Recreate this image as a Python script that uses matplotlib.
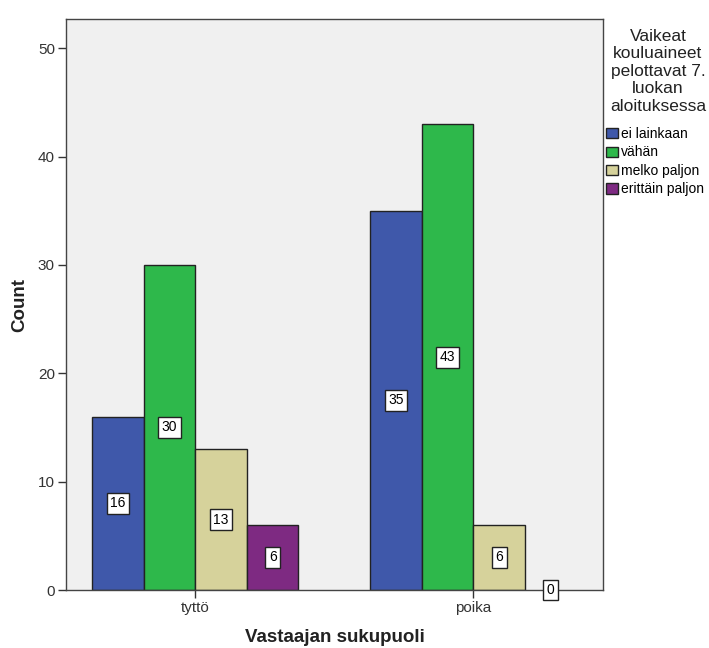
import numpy as np
import matplotlib.pyplot as plt

plt.rcParams['font.family'] = ['Liberation Sans', 'DejaVu Sans']

groups = ['tyttö', 'poika']
answers = ['ei lainkaan', 'vähän', 'melko paljon', 'erittäin paljon']
counts = {
    'ei lainkaan': [16, 35],
    'vähän': [30, 43],
    'melko paljon': [13, 6],
    'erittäin paljon': [6, 0],
}
colors = ['#3f58aa', '#2eb84b', '#d6d29b', '#7e2a82']
legend_title = 'Vaikeat\nkouluaineet\npelottavat 7.\nluokan\naloituksessa'

fig = plt.figure(figsize=(7.09, 6.48), dpi=100)
ax = fig.add_axes([66 / 709, 1 - 590 / 648, (603 - 66) / 709, (590 - 19) / 648])
ax.set_facecolor('#f0f0f0')

x = np.arange(len(groups))
w = 0.1855
handles = []
for i, (name, col) in enumerate(zip(answers, colors)):
    vals = counts[name]
    pos = x + (i - 1.5) * w
    # empty bars get no outline
    lws = [1.0 if v > 0 else 0 for v in vals]
    bars = ax.bar(pos, vals, width=w, color=col, edgecolor='#222222', linewidth=lws, zorder=2)
    handles.append(bars)
    for px, v in zip(pos, vals):
        ax.text(px, v / 2, str(v), ha='center', va='center', fontsize=10, zorder=4,
                bbox=dict(boxstyle='square,pad=0.25', fc='white', ec='#222222', lw=1.0))

ax.set_xlim(-0.465, 1.466)
ax.set_ylim(0, 52.7)
ax.set_yticks([0, 10, 20, 30, 40, 50])
ax.set_xticks(x)
ax.set_xticklabels(groups)
ax.tick_params(axis='both', labelsize=11, length=6, width=1.0, color='#333333',
               labelcolor='#333333', pad=2)
for s in ax.spines.values():
    s.set_color('#444444')
    s.set_linewidth(1.0)

ax.set_ylabel('Count', fontsize=13.5, fontweight='bold', color='#222222', labelpad=7)
ax.set_xlabel('Vastaajan sukupuoli', fontsize=13.5, fontweight='bold', color='#222222', labelpad=10)

fig.text(658 / 709, 1 - 29 / 648, legend_title, ha='center', va='top', fontsize=12.5,
         linespacing=1.2, color='#222222')
fig.legend(handles, answers, loc='upper left', bbox_to_anchor=(606 / 709, 1 - 127 / 648),
           frameon=False, fontsize=10, handlelength=0.85, handleheight=0.75,
           handletextpad=0.25, labelspacing=0.32, borderpad=0, borderaxespad=0)

fig.savefig('out.png', dpi=100)
